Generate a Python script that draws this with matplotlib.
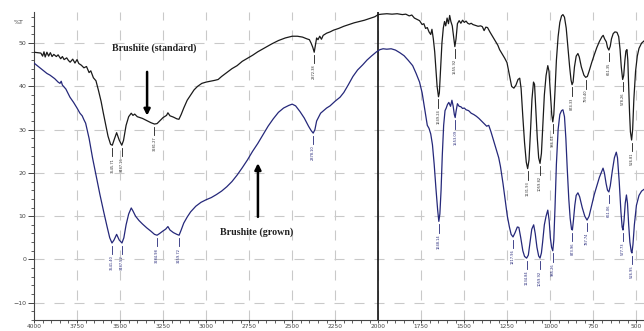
import numpy as np
import matplotlib.pyplot as plt
from matplotlib.ticker import MultipleLocator

# Brushite (standard) - black trace
std_wn = [4000, 3980, 3960, 3950, 3942, 3935, 3925, 3915, 3905, 3895, 3885, 3870, 3860, 3845,
          3835, 3825, 3810, 3800, 3790, 3775, 3762, 3750, 3740, 3725, 3710, 3695, 3680, 3670,
          3655, 3640, 3625, 3610, 3598, 3585, 3570, 3555, 3545, 3535, 3520, 3505, 3490, 3480,
          3465, 3450, 3435, 3425, 3415, 3400, 3385, 3370, 3355, 3340, 3320, 3300, 3285, 3270,
          3250, 3230, 3222, 3210, 3190, 3170, 3158, 3145, 3130, 3110, 3090, 3070, 3050, 3025,
          3000, 2975, 2950, 2930, 2910, 2880, 2850, 2820, 2790, 2760, 2730, 2700, 2660, 2620,
          2580, 2540, 2500, 2470, 2440, 2415, 2400, 2390, 2380, 2372, 2365, 2358, 2350, 2340,
          2330, 2320, 2300, 2280, 2260, 2230, 2200, 2170, 2140, 2110, 2080, 2050, 2020, 2000,
          1980, 1950, 1920, 1890, 1860, 1840, 1820, 1805, 1790, 1775, 1760, 1745, 1735, 1725,
          1715, 1705, 1695, 1688, 1680, 1672, 1665, 1658, 1650, 1645, 1638, 1630, 1622, 1615,
          1608, 1600, 1592, 1585, 1578, 1570, 1562, 1555, 1548, 1540, 1530, 1520, 1510, 1500,
          1490, 1480, 1470, 1460, 1450, 1435, 1420, 1405, 1395, 1385, 1375, 1365, 1350, 1335,
          1320, 1305, 1295, 1280, 1265, 1252, 1240, 1225, 1212, 1200, 1188, 1178, 1170, 1160,
          1150, 1140, 1132, 1124, 1115, 1107, 1098, 1092, 1085, 1076, 1068, 1060, 1052, 1044,
          1035, 1025, 1015, 1008, 1000, 992, 986, 980, 973, 965, 955, 945, 935, 927,
          918, 908, 898, 888, 880, 874, 868, 860, 850, 840, 832, 820, 805, 795,
          785, 775, 760, 745, 730, 715, 700, 693, 685, 675, 668, 660, 652, 645,
          635, 625, 613, 603, 595, 588, 580, 574, 567, 561, 555, 550, 545, 540,
          535, 528, 522, 515, 505, 495, 485, 470, 456]
std_t = [47.9, 47.8, 47.7, 47.0, 48.0, 46.8, 47.9, 47.0, 47.8, 46.9, 47.4, 46.9, 47.3, 46.4,
         46.9, 46.2, 46.6, 46.0, 45.6, 46.3, 45.4, 46.2, 45.3, 44.9, 44.3, 44.6, 43.2, 43.6,
         42.0, 41.3, 39.0, 36.5, 34.0, 31.5, 28.5, 26.6, 26.4, 27.6, 29.3, 27.6, 26.4, 27.5,
         31.0, 33.0, 33.8, 33.3, 33.6, 33.0, 32.8, 32.6, 32.3, 32.0, 31.6, 31.3, 31.4, 32.0,
         32.8, 33.3, 33.9, 33.2, 32.9, 32.5, 32.4, 33.5, 35.0, 36.8, 38.0, 39.2, 40.0, 40.7,
         41.0, 41.2, 41.4, 41.6, 42.3, 43.2, 44.1, 44.8, 45.8, 46.5, 47.2, 48.0, 48.9, 49.8,
         50.6, 51.2, 51.6, 51.6, 51.4, 51.0, 50.8, 50.0, 49.0, 47.9, 49.5, 51.2, 50.8, 51.6,
         50.9, 51.8, 52.3, 52.6, 53.0, 53.4, 53.9, 54.3, 54.7, 55.0, 55.3, 55.7, 56.1, 56.6,
         56.7, 56.8, 56.7, 56.8, 56.6, 56.7, 56.3, 56.5, 55.8, 55.5, 55.2, 54.3, 54.5, 53.4,
         53.6, 52.6, 52.0, 53.2, 51.0, 48.0, 44.0, 40.0, 37.6, 38.5, 44.0, 50.0, 53.5, 55.0,
         54.0, 55.8, 54.5, 56.4, 55.0, 54.0, 51.5, 49.2, 51.0, 54.5, 55.2, 54.6, 55.3, 54.8,
         55.1, 54.6, 54.4, 54.6, 54.3, 54.1, 53.9, 54.0, 53.8, 52.9, 53.7, 53.6, 52.5, 51.5,
         50.5, 49.5, 48.5, 47.5, 46.5, 45.5, 43.0, 40.0, 39.6, 40.3, 41.6, 41.9, 39.5, 33.0,
         27.0, 22.5, 21.0, 23.0, 30.0, 37.0, 41.0, 40.5, 35.0, 28.0, 23.5, 22.2, 24.5, 31.0,
         38.0, 42.5, 44.8, 43.5, 38.5, 33.5, 31.8, 33.5, 39.0, 46.0, 51.5, 54.8, 56.3, 56.6,
         56.0, 53.5, 49.0, 44.5, 41.5, 40.4, 41.0, 44.5, 47.0, 47.6, 46.8, 44.5, 42.6, 42.1,
         42.3, 43.5, 45.5, 47.3, 49.0, 50.4, 51.5, 51.8, 51.0, 50.3, 49.0, 48.4, 49.3, 51.0,
         52.2, 52.6, 52.5, 51.5, 48.5, 44.5, 41.6, 42.5, 46.0, 48.2, 48.5, 46.0, 40.0, 34.0,
         29.5, 27.6, 30.0, 37.0, 43.5, 47.0, 48.8, 50.0, 50.5]

# Brushite (grown) - blue trace
grown_wn = [4000, 3975, 3950, 3925, 3907, 3880, 3860, 3849, 3842, 3835, 3815, 3791, 3770, 3750,
            3733, 3720, 3710, 3700, 3680, 3660, 3640, 3617, 3595, 3575, 3560, 3547, 3535, 3520,
            3505, 3489, 3478, 3465, 3450, 3435, 3425, 3410, 3390, 3370, 3345, 3320, 3300, 3285,
            3270, 3250, 3235, 3222, 3210, 3190, 3170, 3157, 3145, 3130, 3110, 3090, 3060, 3030,
            3000, 2970, 2940, 2910, 2880, 2850, 2820, 2790, 2760, 2730, 2700, 2670, 2640, 2610,
            2580, 2550, 2520, 2500, 2480, 2455, 2430, 2405, 2390, 2378, 2368, 2358, 2345, 2335,
            2320, 2300, 2280, 2250, 2222, 2200, 2175, 2147, 2120, 2090, 2065, 2040, 2010, 1990,
            1972, 1950, 1925, 1900, 1875, 1850, 1825, 1800, 1780, 1760, 1745, 1735, 1725, 1715,
            1705, 1695, 1685, 1675, 1665, 1655, 1648, 1642, 1635, 1628, 1620, 1612, 1605, 1598,
            1590, 1580, 1572, 1565, 1558, 1553, 1548, 1540, 1530, 1520, 1510, 1500, 1490, 1475,
            1460, 1445, 1430, 1415, 1400, 1385, 1370, 1358, 1345, 1330, 1315, 1300, 1290, 1275,
            1262, 1250, 1238, 1228, 1217, 1205, 1192, 1183, 1172, 1160, 1150, 1138, 1128, 1118,
            1108, 1097, 1088, 1078, 1068, 1060, 1052, 1045, 1035, 1025, 1015, 1007, 1000, 993,
            986, 980, 973, 965, 955, 945, 935, 927, 918, 910, 902, 893, 885, 877,
            872, 866, 858, 850, 840, 830, 815, 800, 787, 775, 760, 745, 730, 715,
            700, 694, 686, 676, 668, 660, 652, 640, 628, 617, 610, 600, 590, 583,
            578, 572, 565, 558, 552, 545, 538, 530, 526, 520, 512, 500, 485, 470, 456]
grown_t = [45.4, 44.6, 43.8, 43.0, 42.6, 41.8, 41.0, 40.7, 41.2, 40.3, 39.4, 37.5, 36.3, 35.0,
           33.8, 33.2, 32.3, 31.5, 28.0, 23.5, 19.5, 15.0, 11.0, 7.5, 5.0, 3.8, 4.5, 5.8,
           4.5, 3.8, 5.0, 8.0, 10.5, 11.9, 11.2, 10.0, 9.0, 8.2, 7.3, 6.5, 5.8, 5.6,
           6.0, 6.6, 7.0, 7.6, 6.8, 6.2, 5.8, 5.6, 6.8, 8.4, 9.8, 11.0, 12.3, 13.2,
           13.8, 14.3, 15.0, 15.8, 16.8, 18.0, 19.5, 21.2, 23.0, 25.0, 26.8, 28.8, 30.8, 32.5,
           34.0, 35.0, 35.6, 35.9, 35.5, 34.2, 32.7, 30.8, 29.8, 29.2, 30.0, 32.0, 33.0, 33.8,
           34.3, 35.0, 35.5, 36.6, 37.5, 38.6, 40.3, 42.3, 43.8, 45.0, 46.1, 47.0, 48.0, 48.5,
           48.7, 48.6, 48.7, 48.4, 47.8, 47.1, 46.0, 44.8, 43.0, 41.0, 38.5, 36.0, 33.5, 31.0,
           30.3, 29.0, 26.5, 22.0, 16.5, 11.5, 8.8, 10.5, 16.0, 24.0, 31.0, 34.4, 35.0, 35.8,
           36.3, 35.4, 36.8, 35.5, 33.5, 32.8, 34.2, 36.0, 35.4, 35.3, 34.9, 35.0, 34.6, 34.4,
           33.8, 33.5, 33.1, 32.6, 32.0, 31.4, 30.8, 31.0, 29.5, 27.5, 25.5, 23.5, 21.5, 17.5,
           13.5, 10.0, 7.5, 5.8, 5.2, 6.2, 7.5, 7.4, 5.0, 2.0, 0.7, 0.3, 1.0, 4.0,
           7.0, 8.0, 6.0, 2.8, 0.8, 0.3, 1.5, 4.0, 8.0, 10.0, 11.4, 9.0, 5.0, 2.8,
           2.0, 4.5, 12.0, 22.0, 30.0, 33.5, 34.4, 34.6, 33.0, 28.0, 21.0, 14.0, 9.5, 7.0,
           6.8, 9.0, 12.5, 14.8, 15.4, 14.5, 12.0, 10.0, 9.1, 10.0, 12.5, 15.0, 17.0, 19.0,
           20.5, 21.1, 20.0, 17.5, 16.0, 15.6, 17.0, 20.5, 23.5, 24.8, 23.5, 18.0, 11.0, 7.5,
           6.8, 9.0, 13.0, 14.9, 13.0, 8.0, 4.0, 1.8, 1.5, 3.5, 8.0, 12.5, 14.8, 15.8, 16.2]

# peak markers (cm-1) and their printed labels
std_peaks = [3545, 3490, 3300, 2372, 1650, 1555, 1132, 1060, 986, 874, 795, 660, 580, 528]
std_labels = ["3545.71", "3487.16", "3281.27", "2372.38", "1649.24", "1555.92", "1131.93",
              "1059.82", "986.04", "874.33", "793.40", "661.35", "578.26", "526.81"]
grown_peaks = [3547, 3489, 3285, 3157, 2378, 1648, 1553, 1217, 1138, 1060, 986, 872, 787,
               660, 578, 526]
grown_labels = ["3541.40", "3487.52", "3284.98", "3159.72", "2378.10", "1648.14", "1553.09",
                "1217.96", "1134.84", "1059.92", "985.26", "873.96", "787.74", "661.06",
                "577.73", "526.95"]

fig = plt.figure(figsize=(6.44, 3.31), dpi=100)
ax = fig.add_axes([34 / 644, 11 / 331, 610 / 644, 308 / 331])

ax.set_xlim(4000, 456)
ax.set_ylim(-14, 57.2)

# dashed grid
for gx in range(3750, 450, -250):
    ax.axvline(gx, color="#c9c9c9", lw=0.8, ls=(0, (9, 9)), zorder=0)
for gy in range(-10, 51, 10):
    ax.axhline(gy, color="#c9c9c9", lw=0.8, ls=(0, (9, 9)), zorder=0)
ax.axvline(2000, color="#111111", lw=1.2, zorder=1)

ax.plot(std_wn, std_t, color="#1a1a1a", lw=0.9, zorder=3)
ax.plot(grown_wn, grown_t, color="#25287a", lw=0.9, zorder=3)

# small vertical peak labels
for wn, lab in zip(std_peaks, std_labels):
    y = np.interp(wn, std_wn[::-1], std_t[::-1])
    ax.plot([wn, wn], [y - 0.6, y - 2.6], color="#1a1a1a", lw=0.6, zorder=3)
    ax.text(wn, y - 2.9, lab, rotation=90, ha="center", va="top", fontsize=2.6,
            color="#333333", zorder=3)
for wn, lab in zip(grown_peaks, grown_labels):
    y = np.interp(wn, grown_wn[::-1], grown_t[::-1])
    ax.plot([wn, wn], [y - 0.6, y - 2.6], color="#25287a", lw=0.6, zorder=3)
    ax.text(wn, y - 2.9, lab, rotation=90, ha="center", va="top", fontsize=2.6,
            color="#25287a", zorder=3)

# annotations
ax.annotate("", xy=(3343, 32.6), xytext=(3343, 44.0),
            arrowprops=dict(arrowstyle="-|>", color="black", lw=1.8, mutation_scale=9))
ax.text(3300, 48.8, "Brushite (standard)", ha="center", va="center", fontsize=7.2,
        fontweight="bold", family="Liberation Serif", color="#222222")
ax.annotate("", xy=(2699, 22.9), xytext=(2699, 9.2),
            arrowprops=dict(arrowstyle="-|>", color="black", lw=1.8, mutation_scale=9))
ax.text(2705, 6.2, "Brushite (grown)", ha="center", va="center", fontsize=7.2,
        fontweight="bold", family="Liberation Serif", color="#222222")

# axes styling
for s in ["top", "right"]:
    ax.spines[s].set_visible(False)
ax.spines["left"].set_color("#444444")
ax.spines["bottom"].set_color("#444444")
ax.xaxis.set_major_locator(MultipleLocator(250))
ax.xaxis.set_minor_locator(MultipleLocator(50))
ax.yaxis.set_major_locator(MultipleLocator(10))
ax.yaxis.set_minor_locator(MultipleLocator(2))
ax.tick_params(axis="y", which="major", labelsize=4.5, length=4, width=0.7,
               colors="#444444", pad=1.5)
ax.tick_params(axis="x", which="major", labelsize=4.2, length=2.5, width=0.7,
               colors="#444444", pad=0.3)
ax.tick_params(axis="both", which="minor", length=2, width=0.6, colors="#444444")
ax.text(-0.026, 0.965, "%T", transform=ax.transAxes, fontsize=4.5, color="#444444",
        ha="center", va="center")

fig.savefig("out.png", dpi=100)
